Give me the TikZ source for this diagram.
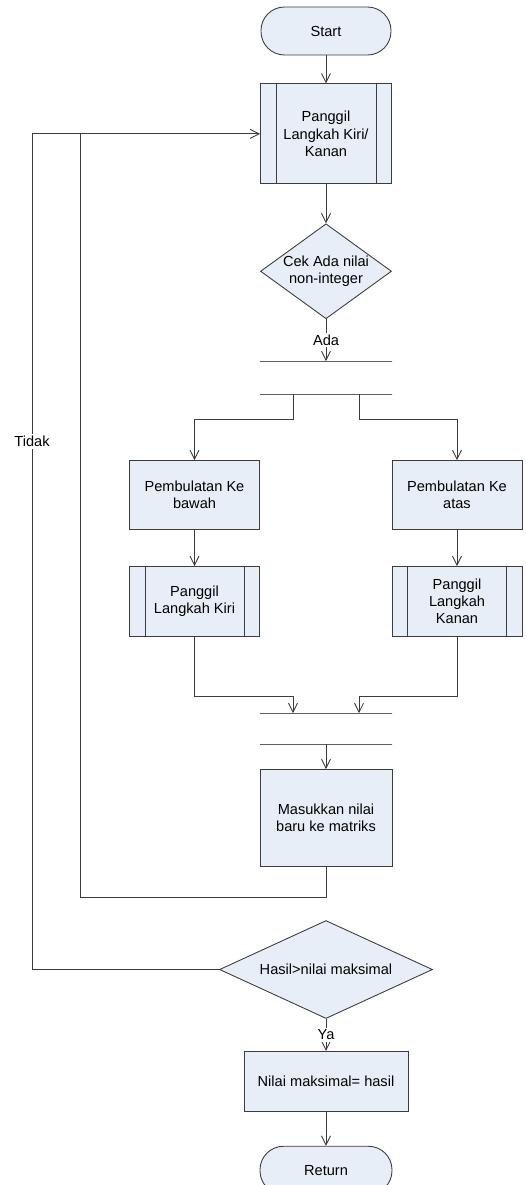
\documentclass[tikz,border=0pt]{standalone}
\usepackage{fontspec}
\setmainfont{Liberation Sans}
\usepackage{xcolor}
\usetikzlibrary{positioning, shapes.geometric, arrows.meta, calc}

\definecolor{boxfill}{RGB}{232,238,247}
\definecolor{linegray}{RGB}{60,60,60}
\definecolor{bargray}{RGB}{95,95,95}

\begin{document}
\begin{tikzpicture}[
					% --- Styles ---
					terminal/.style={
						rectangle, draw=linegray, rounded corners=0.47cm, fill=boxfill,
						minimum width=2.6cm, minimum height=0.96cm, align=center, line width=0.5pt
					},
					procbox/.style={
						rectangle, draw=linegray, fill=boxfill,
						minimum width=2.62cm, align=center, line width=0.5pt
					},
					% Predefined process (double side lines)
					callbox/.style={
						procbox,
						path picture={
							\draw[linegray, line width=0.5pt]
							([xshift=0.31cm]path picture bounding box.north west) -- ([xshift=0.31cm]path picture bounding box.south west)
							([xshift=-0.31cm]path picture bounding box.north east) -- ([xshift=-0.31cm]path picture bounding box.south east);
						}
					},
					decision/.style={
						diamond, draw=linegray, fill=boxfill, align=center, inner sep=-2pt, line width=0.5pt
					},
					syncbar/.style={
						draw=bargray, line width=0.7pt, minimum width=2.64cm, minimum height=0pt, inner sep=0pt, outer sep=0pt
					},
					flow/.style={
						draw=linegray, line width=0.5pt, -{Straight Barb[length=1.8mm, width=1.8mm]}
					},
					link/.style={
						draw=linegray, line width=0.5pt
					},
					flowlabel/.style={
						fill=white, inner sep=1pt
					}
					]
					\useasboundingbox (0,0) rectangle (10.52,-23.7);
					\fontsize{8.3}{9.8}\selectfont
					
					% --- 1. Main column ---
					\node [terminal] (start) at (6.52,-0.62) {Start};
					\node [callbox, minimum height=2.0cm, below=0.56cm of start] (call_all) {Panggil\\Langkah Kiri/\\Kanan};
					\node [decision, minimum width=2.62cm, minimum height=1.9cm, aspect=1.38, below=0.78cm of call_all] (check) {Cek Ada nilai\\non-integer};
					
					% Fork bars
					\node [syncbar, below=0.84cm of check] (bar_a) {};
					\node [syncbar, below=0.66cm of bar_a] (bar_b) {};
					
					% --- 2. Two branches ---
					\node [procbox, minimum width=2.6cm, minimum height=1.38cm, below=1.32cm of bar_b, xshift=-2.63cm] (round_down) {Pembulatan Ke\\bawah};
					\node [procbox, minimum width=2.6cm, minimum height=1.38cm, below=1.32cm of bar_b, xshift=2.62cm] (round_up) {Pembulatan Ke\\atas};
					\node [callbox, minimum width=2.6cm, minimum height=1.4cm, below=0.72cm of round_down] (call_left) {Panggil\\Langkah Kiri};
					\node [callbox, minimum width=2.6cm, minimum height=1.4cm, below=0.72cm of round_up] (call_right) {Panggil\\Langkah\\Kanan};
					
					% Join bars
					\node [syncbar, below=6.38cm of bar_b] (bar_c) {};
					\node [syncbar, below=0.62cm of bar_c] (bar_d) {};
					
					% --- 3. Rest of the column ---
					\node [procbox, minimum width=2.64cm, minimum height=1.94cm, below=0.5cm of bar_d] (store) {Masukkan nilai\\baru ke matriks};
					\node [decision, minimum width=4.26cm, minimum height=1.96cm, aspect=2.17, below=1.06cm of store] (compare) {Hasil>nilai maksimal};
					\node [procbox, minimum width=3.28cm, minimum height=1.2cm, below=0.64cm of compare] (result) {Nilai maksimal= hasil};
					\node [terminal, minimum width=2.64cm, below=0.68cm of result] (finish) {Return};
					
					% Loop back lines
					\coordinate (loop_in) at (1.6,0);
					\coordinate (loop_out) at (0.64,0);
					
					% --- 4. Connections ---
					\draw [flow] (start) -- (call_all);
					\draw [flow] (call_all) -- (check);
					\draw [flow] (check.south) -- node[flowlabel] {Ada} (bar_a);
					
					% Fork
					\draw [flow] ([xshift=-0.66cm]bar_b.center) -- ++(0,-0.5) -| (round_down.north);
					\draw [flow] ([xshift=0.66cm]bar_b.center) -- ++(0,-0.5) -| (round_up.north);
					\draw [flow] (round_down) -- (call_left);
					\draw [flow] (round_up) -- (call_right);
					
					% Join
					\draw [flow] (call_left.south) |- ([xshift=-0.66cm, yshift=0.34cm]bar_c.center) -- ([xshift=-0.66cm]bar_c.center);
					\draw [flow] (call_right.south) |- ([xshift=0.66cm, yshift=0.34cm]bar_c.center) -- ([xshift=0.66cm]bar_c.center);
					\draw [flow] (bar_d.center) -- (store.north);
					
					% Inner loop (back to the call)
					\draw [flow] (store.south) -- ++(0,-0.6) -| (loop_in |- call_all.west) -- (call_all.west);
					
					% Outer loop (Tidak)
					\draw [link] (compare.west) -| node[flowlabel, pos=0.816] {Tidak} (loop_out |- call_all.west) -- (loop_in |- call_all.west);
					
					\draw [flow] (compare.south) -- node[flowlabel] {Ya} (result.north);
					\draw [flow] (result) -- (finish);
					
				\end{tikzpicture}
\end{document}
